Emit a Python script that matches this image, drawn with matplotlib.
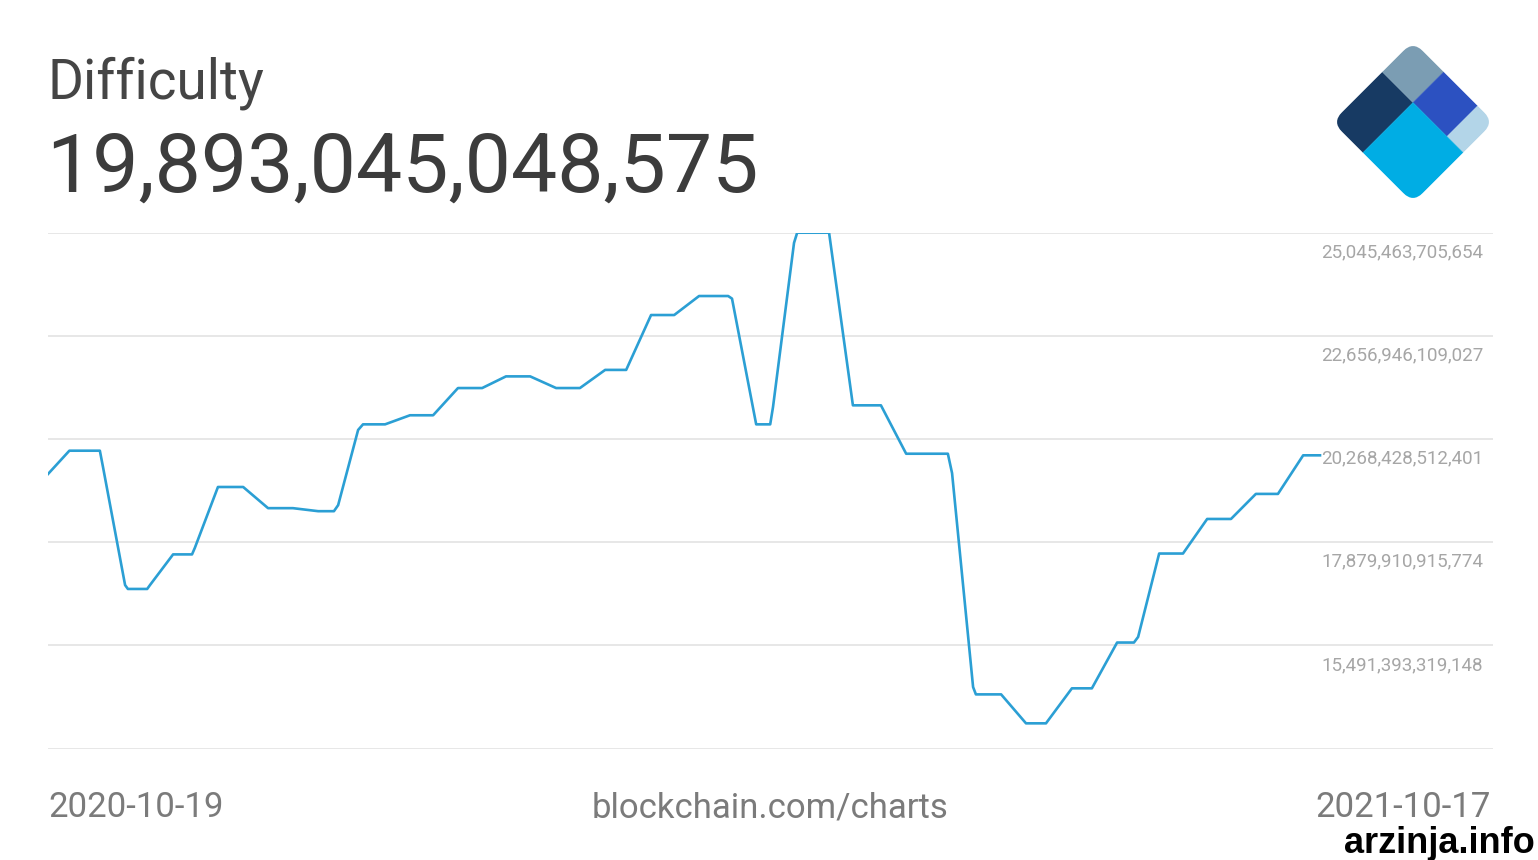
import pandas as pd
import matplotlib
matplotlib.use("Agg")
import matplotlib.pyplot as plt
from matplotlib.patches import Rectangle, FancyBboxPatch
from matplotlib.transforms import Affine2D, blended_transform_factory

plt.rcParams['font.family'] = ['Roboto', 'DejaVu Sans']

# datos (dias desde 2020-10-19, dificultad en billones)
dias = [0, 6.1, 14.8, 15.7, 22.0, 22.8, 28.3, 29.1, 35.7, 41.1, 41.9, 48.5,
        55.7, 62.8, 69.9, 77.1, 81.6, 82.8, 88.5, 89.9, 96.2, 103.3, 109.9,
        117.0, 123.9, 130.7, 137.6, 145.0, 151.8, 159.0, 165.0, 172.1, 178.7,
        185.8, 194.1, 195.2, 202.1, 206.1, 206.9, 212.9, 213.8, 222.9, 229.7,
        237.7, 244.9, 256.8, 258.0, 264.0, 264.8, 272.0, 279.1, 284.8, 292.2,
        297.9, 305.1, 309.9, 311.1, 317.1, 323.9, 330.8, 337.6, 344.7, 351.0,
        358.2, 363.0]
dificultad = [19.46, 20.00, 20.00, 19.62, 16.89, 16.80, 16.80, 16.89, 17.60,
              17.60, 17.75, 19.16, 19.16, 18.67, 18.67, 18.60, 18.60, 18.74,
              20.48, 20.61, 20.61, 20.82, 20.82, 21.45, 21.45, 21.72, 21.72,
              21.45, 21.45, 21.87, 21.87, 23.14, 23.14, 23.58, 23.58, 23.52,
              20.61, 20.61, 21.01, 24.81, 25.0455, 25.0455, 21.05, 21.05, 19.93,
              19.93, 19.48, 14.53, 14.36, 14.36, 13.69, 13.69, 14.50, 14.50,
              15.56, 15.56, 15.69, 17.62, 17.62, 18.42, 18.42, 19.00, 19.00,
              19.893, 19.893]

etiquetas_y = ['25,045,463,705,654', '22,656,946,109,027', '20,268,428,512,401',
               '17,879,910,915,774', '15,491,393,319,148']
valores_y = [25.045463705654, 22.656946109027, 20.268428512401,
             17.879910915774, 15.491393319148, 13.102875722521]

inicio = pd.Timestamp('2020-10-19')
fechas = inicio + pd.to_timedelta(dias, unit='D')

fig = plt.figure(figsize=(15.38, 8.6), dpi=100)
W, H = 1538, 860

# grafico principal
ax = fig.add_axes([48 / W, (H - 748.7) / H, 1445 / W, 516 / H])
ax.plot(fechas, dificultad, color='#2b9fd4', linewidth=1.9, solid_joinstyle='round')
ax.set_xlim(inicio, inicio + pd.Timedelta(days=363 * 1445 / 1272))
ax.set_ylim(valores_y[-1], valores_y[0])
for v in valores_y:
    ax.axhline(v, color='#e3e3e3', linewidth=1.2, zorder=0)
for s in ax.spines.values():
    s.set_visible(False)
ax.set_xticks([])
ax.set_yticks([])

trans = blended_transform_factory(ax.transAxes, ax.transData)
for v, lab in zip(valores_y, etiquetas_y):
    ax.annotate(lab, xy=((1321 - 48) / 1445, v), xycoords=trans,
                xytext=(0, -19.5), textcoords='offset pixels',
                ha='left', va='center', fontsize=13.5, color='#a6a6a6')

# textos
fig.text(48 / W, (H - 99) / H, 'Difficulty', fontsize=39.5, color='#454545', va='baseline')
fig.text(46 / W, (H - 192) / H, '19,893,045,048,575', fontsize=59.3, color='#3c3c3c', va='baseline')
fig.text(48 / W, (H - 817) / H, '2020-10-19', fontsize=25, color='#7b7b7b', va='baseline')
fig.text(770 / W, (H - 817) / H, 'blockchain.com/charts', fontsize=25, color='#7b7b7b',
         va='baseline', ha='center')
fig.text(1491 / W, (H - 817) / H, '2021-10-17', fontsize=25, color='#7b7b7b',
         va='baseline', ha='right')
fig.text(1535 / W, (H - 853) / H, 'arzinja.info', fontsize=26, color='black',
         fontweight='bold', family=['Liberation Sans', 'DejaVu Sans'],
         va='baseline', ha='right')

# logo
axl = fig.add_axes([(1413 - 80) / W, (H - 122 - 80) / H, 160 / W, 160 / H])
axl.set_xlim(-0.70, 0.70)
axl.set_ylim(-0.70, 0.70)
axl.axis('off')
rot = Affine2D().rotate_deg(45) + axl.transData
borde = FancyBboxPatch((-0.5, -0.5), 1, 1, boxstyle='round,pad=0,rounding_size=0.12',
                       transform=rot, facecolor='none', edgecolor='none')
axl.add_patch(borde)
piezas = [((-0.5, 0.12), 0.62, 0.38, '#173a63'),
          ((0.12, 0.12), 0.38, 0.38, '#7b9db3'),
          ((0.12, -0.3), 0.38, 0.42, '#2c51c1'),
          ((0.12, -0.5), 0.38, 0.2, '#b3d5e8'),
          ((-0.5, -0.5), 0.62, 0.62, '#00ade4')]
for xy, w, h, c in piezas:
    r = Rectangle(xy, w, h, transform=rot, facecolor=c, edgecolor=c, linewidth=0.3)
    axl.add_patch(r)
    r.set_clip_path(borde)

fig.savefig('out.png', dpi=100, facecolor='white')
